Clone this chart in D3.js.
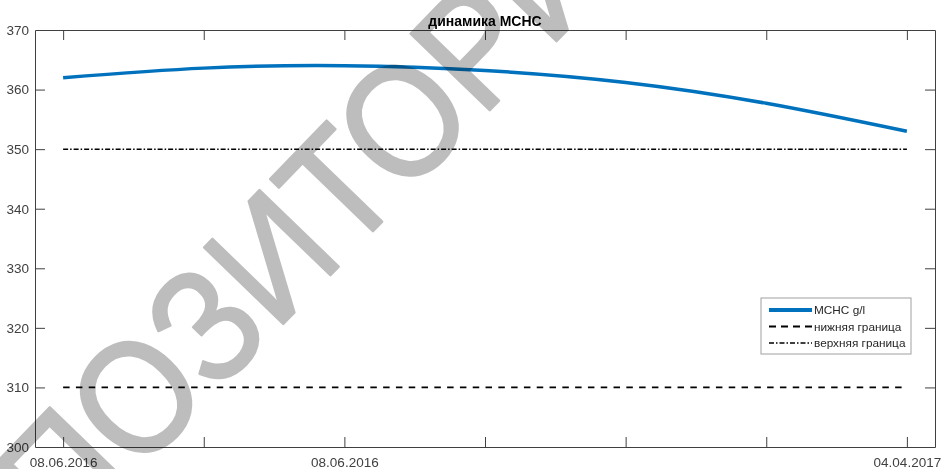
<!DOCTYPE html>
<html>
<head>
<meta charset="utf-8">
<script src="https://cdn.jsdelivr.net/npm/d3@7/dist/d3.min.js"></script>
<style>
  html, body { margin: 0; padding: 0; background: #fff; }
  svg { display: block; font-family: "Liberation Sans", Arial, Helvetica, sans-serif; }
</style>
</head>
<body>
<svg id="chart" width="941" height="469"></svg>
<script>
// ---- data ----
const xPositions = [1, 2, 3, 4, 5, 6, 7];
const xTickLabels = ["08.06.2016", "", "08.06.2016", "", "", "", "04.04.2017"];
const mchcValues = [362.0, 363.6, 364.0, 363.2, 361.2, 357.7, 353.0];
const lowerBound = [310, 310, 310, 310, 310, 310, 310];
const upperBound = [350, 350, 350, 350, 350, 350, 350];
const yTicks = [300, 310, 320, 330, 340, 350, 360, 370];
const seriesNames = ["MCHC g/l", "нижняя граница", "верхняя граница"];
const chartTitle = "динамика MCHC";
const watermarkText = "ПОЗИТОРИЙ";

// ---- layout ----
const W = 941, H = 469;
const m = { left: 35, right: 6, top: 30, bottom: 22 };
const svg = d3.select("#chart");
const x = d3.scaleLinear().domain([0.8, 7.2]).range([m.left, W - m.right]);
const y = d3.scaleLinear().domain([300, 370]).range([H - m.bottom, m.top]);
const axisColor = "#404040";

// axes
const gB = svg.append("g").attr("transform", `translate(0,${H - m.bottom})`)
  .call(d3.axisBottom(x).tickValues(xPositions).tickFormat((d, i) => xTickLabels[i])
    .tickSizeInner(-10).tickSizeOuter(0).tickPadding(10));
const gT = svg.append("g").attr("transform", `translate(0,${m.top})`)
  .call(d3.axisTop(x).tickValues(xPositions).tickFormat("")
    .tickSizeInner(-10).tickSizeOuter(0));
const gL = svg.append("g").attr("transform", `translate(${m.left},0)`)
  .call(d3.axisLeft(y).tickValues(yTicks).tickFormat(d3.format("d"))
    .tickSizeInner(-10).tickSizeOuter(0).tickPadding(6));
const gR = svg.append("g").attr("transform", `translate(${W - m.right},0)`)
  .call(d3.axisRight(y).tickValues(yTicks).tickFormat("")
    .tickSizeInner(-10).tickSizeOuter(0));
[gB, gT, gL, gR].forEach(g => {
  g.selectAll("path.domain").attr("stroke", axisColor).attr("stroke-width", 1);
  g.selectAll(".tick line").attr("stroke", axisColor).attr("stroke-width", 1);
  g.selectAll(".tick text").attr("fill", axisColor).attr("font-size", "13.5px")
    .attr("font-family", "'Liberation Sans', Arial, sans-serif");
});
[gL, gR].forEach(g => g.selectAll(".tick line").filter(d => d === 300 || d === 370).remove());

// lines
const line = d3.line().x((d, i) => x(xPositions[i])).y(d => y(d));
const smooth = d3.line().x((d, i) => x(xPositions[i])).y(d => y(d)).curve(d3.curveNatural);

svg.append("path").datum(lowerBound).attr("d", line)
  .attr("fill", "none").attr("stroke", "#000").attr("stroke-width", 1.8)
  .attr("stroke-dasharray", "6.5,6.3");
svg.append("path").datum(upperBound).attr("d", line)
  .attr("fill", "none").attr("stroke", "#000").attr("stroke-width", 1.5)
  .attr("stroke-dasharray", "5,2,1.5,2");
svg.append("path").datum(mchcValues).attr("d", smooth)
  .attr("fill", "none").attr("stroke", "#0072BD").attr("stroke-width", 3.5);

// title
svg.append("text").attr("x", (m.left + W - m.right) / 2).attr("y", 26)
  .attr("text-anchor", "middle").attr("font-weight", "bold").attr("font-size", "14px")
  .attr("fill", "#000").text(chartTitle);

// legend
const lg = svg.append("g").attr("transform", "translate(761,298)");
lg.append("rect").attr("width", 150).attr("height", 56)
  .attr("fill", "#fff").attr("stroke", "#a0a0a0").attr("stroke-width", 1);
const styles = [
  { stroke: "#0072BD", w: 4, dash: null },
  { stroke: "#000", w: 1.8, dash: "7,5" },
  { stroke: "#000", w: 1.5, dash: "5,2,1.5,2" }
];
seriesNames.forEach((name, i) => {
  const yy = 12 + i * 16.5;
  lg.append("line").attr("x1", 8).attr("x2", 51).attr("y1", yy).attr("y2", yy)
    .attr("stroke", styles[i].stroke).attr("stroke-width", styles[i].w)
    .attr("stroke-dasharray", styles[i].dash);
  lg.append("text").attr("x", 53).attr("y", yy).attr("dy", "0.35em")
    .attr("font-size", "11.8px").attr("fill", "#262626").text(name);
});

// watermark
svg.append("text")
  .attr("transform", "translate(65,550) rotate(-46) scale(0.9,1)")
  .attr("font-size", "160px")
  .attr("font-family", "'Liberation Sans', Arial, sans-serif")
  .attr("fill", "#bdbdbd")
  .attr("stroke", "#bdbdbd")
  .attr("stroke-width", 2.5)
  .attr("stroke-linejoin", "round")
  .style("mix-blend-mode", "multiply")
  .text(watermarkText);
</script>
</body>
</html>
